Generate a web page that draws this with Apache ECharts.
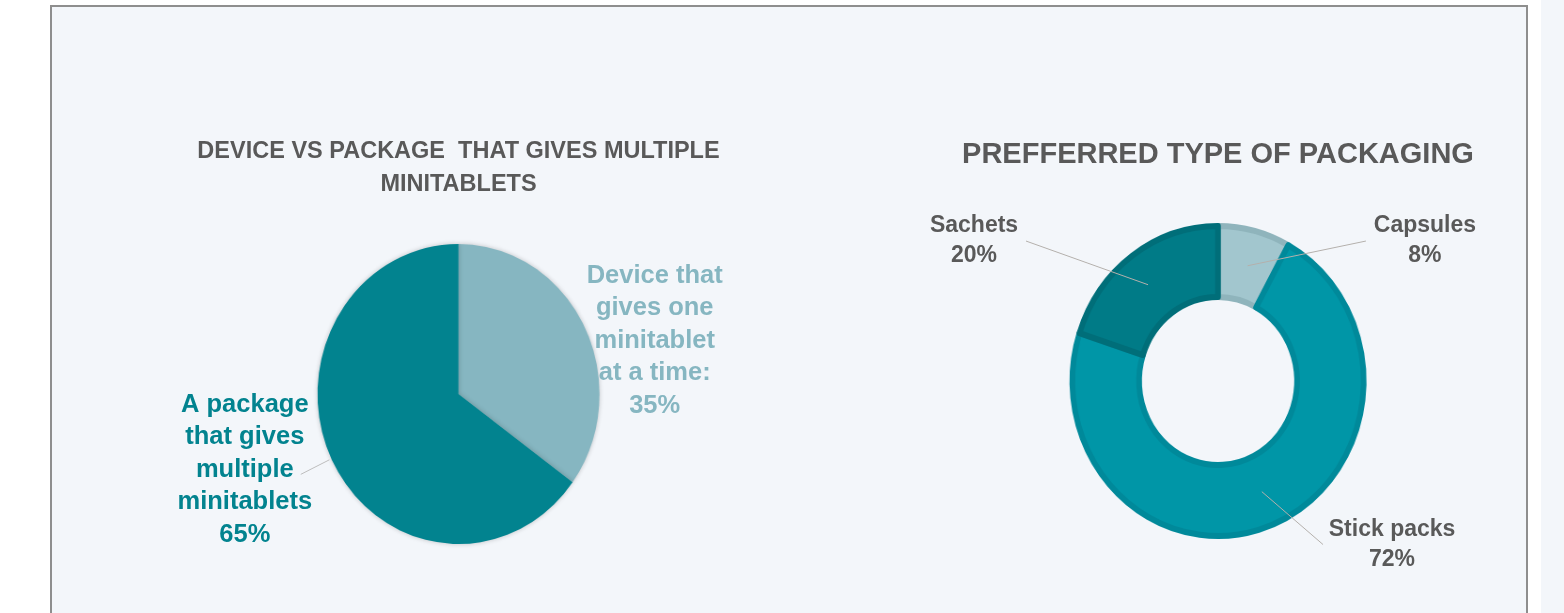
<!DOCTYPE html>
<html>
<head>
<meta charset="utf-8">
<script src="https://cdn.jsdelivr.net/npm/echarts@6/dist/echarts.min.js"></script>
<style>
  html, body { margin: 0; padding: 0; background: #ffffff; width: 1564px; height: 613px; overflow: hidden; }
  #panel { position: absolute; left: 50px; top: 5px; width: 1474px; height: 700px; border: 2px solid #8e8e8e; background: #f3f6fa; }
  #strip { position: absolute; left: 1541px; top: 0; width: 23px; height: 613px; background: #f3f6fa; }
  /* slices are drawn in a horizontally squashed layer so the pies come out slightly elliptical */
  #slices { position: absolute; left: 0; top: 0; width: 1664px; height: 613px; transform: scaleX(0.94); transform-origin: 0 0; }
  #labels { position: absolute; left: 0; top: 0; width: 1564px; height: 613px; }
</style>
</head>
<body>
<div id="panel"></div>
<div id="strip"></div>
<div id="slices"></div>
<div id="labels"></div>
<script>
// ---- data ----
const deviceLabels = ['Device that\ngives one\nminitablet\nat a time:', 'A package\nthat gives\nmultiple\nminitablets'];
const deviceValues = [35, 65];
const packagingLabels = ['Capsules', 'Stick packs', 'Sachets'];
const packagingValues = [8, 72, 20];
const leftTitle = 'DEVICE VS PACKAGE  THAT GIVES MULTIPLE\nMINITABLETS';
const rightTitle = 'PREFFERRED TYPE OF PACKAGING';

// ---- styling ----
const FONT = "'Liberation Sans', Arial, Helvetica, sans-serif";
const SQUASH = 0.94;
const TEXT_GREY = '#595959';
const deviceColors = ['#86b6c1', '#02838f'];
const packagingFill = ['#a2c6ce', '#0096a7', '#007b87'];
const packagingEdge = ['#8fb4bc', '#00899a', '#006e79'];
const deviceCenter = [458.5, 394];
const packagingCenter = [1218, 381];

// per-slice label tuning
const deviceLabelWidth = [124, 106];
const deviceLabelOpts = [
  { padding: [25, 0, 0, 0], distanceToLabelLine: 5 },
  { padding: [0, 0, 9, 0], distanceToLabelLine: 3 }
];
const deviceLineOpts = [
  { show: false, length: 0, length2: 0 },
  { show: true, length: 32, length2: 0 }
];
const packagingLabelWidth = [108, 128, 94];
const packagingLineOpts = [
  { length: 25.5, length2: 112 },
  { length: 56.9, length2: 40.3 },
  { length: 54, length2: 90.3 }
];

// ---- slices ----
const slices = echarts.init(document.getElementById('slices'), null, { renderer: 'canvas' });
slices.setOption({
  animation: false,
  series: [
    {
      type: 'pie', silent: true,
      center: [deviceCenter[0] / SQUASH, deviceCenter[1]],
      radius: 150, startAngle: 90, clockwise: true,
      label: { show: false }, labelLine: { show: false },
      itemStyle: { borderWidth: 0, shadowBlur: 5, shadowColor: 'rgba(0,0,0,0.22)' },
      data: deviceValues.map((v, i) => ({ name: deviceLabels[i], value: v, itemStyle: { color: deviceColors[i] } }))
    },
    {
      type: 'pie', silent: true,
      center: [packagingCenter[0] / SQUASH, packagingCenter[1]],
      radius: [84, 155], startAngle: 90, clockwise: true,
      label: { show: false }, labelLine: { show: false },
      data: packagingValues.map((v, i) => ({
        name: packagingLabels[i], value: v,
        itemStyle: { color: packagingFill[i], borderColor: packagingEdge[i], borderWidth: 6 }
      }))
    }
  ]
});

// ---- titles and labels ----
function richFormatter(prefix) {
  return p => (p.name + '\n' + p.value + '%').split('\n')
    .map(s => '{' + prefix + p.dataIndex + '|' + s + '}').join('\n');
}
const deviceRich = {};
deviceValues.forEach((v, i) => {
  deviceRich['d' + i] = {
    width: deviceLabelWidth[i], align: 'center', lineHeight: 32.5,
    fontSize: 25.5, fontWeight: 'bold', fontFamily: FONT, color: deviceColors[i]
  };
});
const packagingRich = {};
packagingValues.forEach((v, i) => {
  packagingRich['p' + i] = {
    width: packagingLabelWidth[i], align: 'center', lineHeight: 30,
    fontSize: 23, fontWeight: 'bold', fontFamily: FONT, color: TEXT_GREY
  };
});
function straightLeader(params) {
  const p = params.labelLinePoints;
  if (!p || p.length < 3) return {};
  const a = p[0], b = p[p.length - 1];
  return { labelLinePoints: [a, [(a[0] + b[0]) / 2, (a[1] + b[1]) / 2], b] };
}

const labels = echarts.init(document.getElementById('labels'), null, { renderer: 'canvas' });
labels.setOption({
  animation: false,
  graphic: [
    {
      type: 'text', x: deviceCenter[0], y: 135.5, silent: true,
      style: { text: leftTitle, align: 'center', verticalAlign: 'top', lineHeight: 32.5,
               font: 'bold 23.5px ' + FONT, fill: TEXT_GREY }
    },
    {
      type: 'text', x: packagingCenter[0], y: 155, silent: true,
      style: { text: rightTitle, align: 'center', verticalAlign: 'middle',
               font: 'bold 29px ' + FONT, fill: TEXT_GREY }
    }
  ],
  series: [
    {
      type: 'pie', silent: true, emphasis: { disabled: true },
      center: deviceCenter, radius: 145, startAngle: 90, clockwise: true,
      itemStyle: { color: 'rgba(0,0,0,0)', borderWidth: 0 },
      label: { show: true, position: 'outside', color: TEXT_GREY, formatter: richFormatter('d'), rich: deviceRich },
      labelLine: { show: true, lineStyle: { color: '#bdbdbd', width: 1 } },
      data: deviceValues.map((v, i) => ({
        name: deviceLabels[i], value: v, label: deviceLabelOpts[i], labelLine: deviceLineOpts[i]
      }))
    },
    {
      type: 'pie', silent: true, emphasis: { disabled: true },
      center: packagingCenter, radius: 119, startAngle: 90, clockwise: true,
      itemStyle: { color: 'rgba(0,0,0,0)', borderWidth: 0 },
      label: { show: true, position: 'outside', color: TEXT_GREY, distanceToLabelLine: 5,
               formatter: richFormatter('p'), rich: packagingRich },
      labelLine: { show: true, lineStyle: { color: '#b4b0ac', width: 1 } },
      labelLayout: straightLeader,
      data: packagingValues.map((v, i) => ({
        name: packagingLabels[i], value: v, labelLine: packagingLineOpts[i]
      }))
    }
  ]
});
</script>
</body>
</html>
